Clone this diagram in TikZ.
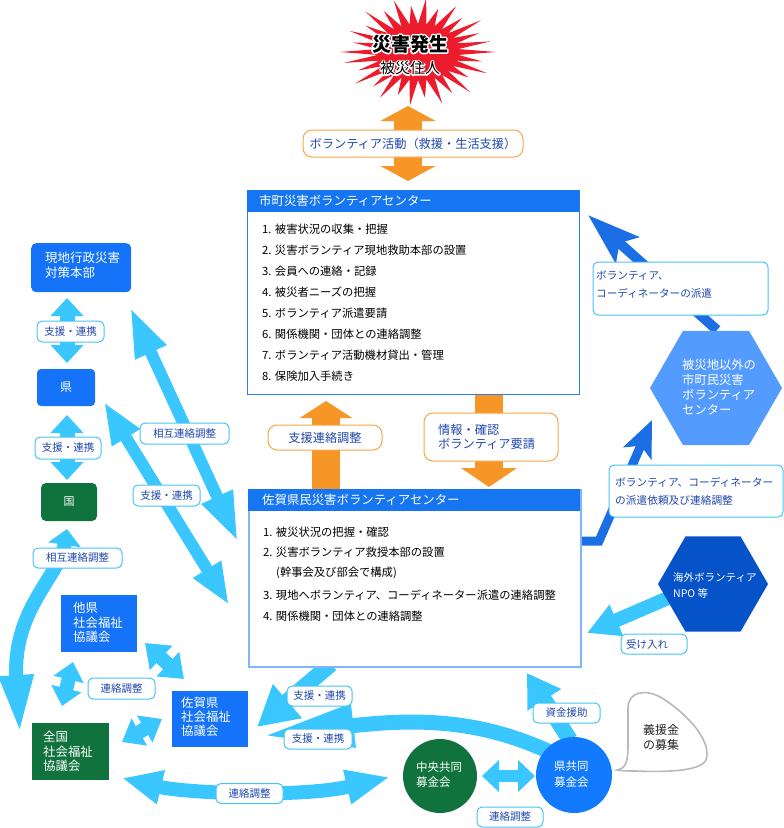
\documentclass[tikz,border=0pt]{standalone}
\usepackage{fontspec}
\setmainfont{Noto Sans CJK JP}
\usetikzlibrary{arrows.meta,shapes.geometric,calc}
\definecolor{hblue}{RGB}{22,118,242}
\definecolor{kblue}{RGB}{20,115,248}
\definecolor{kgreen}{RGB}{16,115,62}
\definecolor{cyanA}{RGB}{58,198,255}
\definecolor{dblue}{RGB}{28,110,228}
\definecolor{hexlight}{RGB}{84,155,255}
\definecolor{hexdark}{RGB}{6,82,200}
\definecolor{oran}{RGB}{246,150,38}
\definecolor{ltext}{RGB}{32,72,172}
\definecolor{lborder}{RGB}{70,195,245}
\definecolor{burstred}{RGB}{236,28,44}
\definecolor{bonebord}{RGB}{40,125,240}
\definecolor{btwobord}{RGB}{130,180,255}
\definecolor{cblue}{RGB}{18,122,255}
\newcommand\myfs[2]{\fontsize{#1}{#2}\selectfont}
\newcommand\halotext[2]{\makebox[0pt][l]{\color{white}\special{pdf:literal direct 1 1 1 RG #1 w 1 j 2 Tr}#2\special{pdf:literal direct 0 Tr 1 w}}#2}
\begin{document}
\begin{tikzpicture}[x=1pt,y=-1pt,
  lbl/.style={draw=lborder, line width=1, fill=white, rounded corners=5, text=ltext, font=\myfs{10.5}{13}, inner sep=0, minimum height=20},
  olbl/.style={draw=oran!85, line width=1, fill=white, rounded corners=9, text=ltext, font=\myfs{12.2}{14}, inner sep=0},
  cy/.style={draw=cyanA, line width=#1},
  db/.style={draw=dblue, line width=#1},
  org/.style={draw=oran, line width=#1},
  wtext/.style={text=white, align=left, inner sep=0},
  item/.style={anchor=west, inner sep=0, font=\myfs{11.3}{13}},
  hdr/.style={fill=hblue, minimum width=332, minimum height=22, anchor=north west, inner sep=0},
  sq/.style={fill=kblue, anchor=north west, inner sep=0}
]
\useasboundingbox (0,0) rectangle (784,828);

% ---------- burst ----------
\coordinate (burst) at (418,52);
\begin{scope}[shift={(burst)}]
\fill[burstred] (78,0) \foreach \a/\r in {6/0.52,12/0.84,18/0.52,24/0.97,30/0.52,36/0.8,42/0.52,48/1.0,54/0.52,60/0.88,66/0.52,72/1.0,78/0.52,84/0.85,90/0.52,96/1.0,102/0.52,108/0.84,114/0.52,120/0.98,126/0.52,132/0.86,138/0.52,144/1.0,150/0.52,156/0.84,162/0.52,168/0.97,174/0.52,180/1.0,186/0.52,192/0.85,198/0.52,204/0.96,210/0.52,216/0.83,222/0.52,228/1.0,234/0.52,240/0.88,246/0.52,252/1.0,258/0.52,264/0.86,270/0.52,276/1.0,282/0.52,288/0.84,294/0.52,300/0.98,306/0.52,312/0.85,318/0.52,324/1.0,330/0.52,336/0.86,342/0.52,348/0.95,354/0.52} { -- ({78*\r*cos(\a)},{54*\r*sin(\a)}) } -- cycle;
\end{scope}
\node[inner sep=0, font=\myfs{19}{21}\bfseries] (burstA) at (410,44) {\halotext{3}{災害発生}};
\node[inner sep=0, font=\myfs{15}{17}] (burstB) at (410,68) {\halotext{2.6}{被災住人}};

% ---------- arrow end coordinates ----------
\coordinate (a1s) at (408,106); \coordinate (a1e) at (408,181);
\coordinate (a2s) at (326,489); \coordinate (a2e) at (326,401);
\coordinate (a3s) at (489,394); \coordinate (a3e) at (489,487);

% ---------- orange arrows ----------
\draw[org=28, {Triangle[length=15pt,width=55pt]}-{Triangle[length=15pt,width=55pt]}] (a1s) -- (a1e);
\draw[org=28, -{Triangle[length=17pt,width=52pt]}] (a2s) -- (a2e);
\draw[org=28, -{Triangle[length=19pt,width=55pt]}] (a3s) -- (a3e);

% ---------- cyan arrows ----------
\coordinate (c1a) at (67,298); \coordinate (c1b) at (67,363);
\coordinate (c2a) at (67,415); \coordinate (c2b) at (67,480);
\coordinate (c3a) at (67,529); \coordinate (c3b) at (20,735);
\coordinate (c4a) at (130,307); \coordinate (c4b) at (238,542);
\coordinate (c5a) at (104,402); \coordinate (c5b) at (229,605);
\coordinate (c6a) at (145,643); \coordinate (c6b) at (184,679);
\coordinate (c7a) at (73,662); \coordinate (c7b) at (62,706);
\coordinate (c8a) at (122,742); \coordinate (c8b) at (162,719);
\coordinate (c9a) at (122,778); \coordinate (c9b) at (390,777);
\coordinate (c10a) at (482,776); \coordinate (c10b) at (535,776);
\coordinate (c11a) at (570,740); \coordinate (c11b) at (527,673);
\coordinate (c12a) at (550,752); \coordinate (c12b) at (262,736);
\coordinate (c13a) at (331,664); \coordinate (c13b) at (257,727);
\coordinate (c14a) at (668,598); \coordinate (c14b) at (587,633);

\draw[cy=15, {Triangle[length=18pt,width=32pt]}-{Triangle[length=18pt,width=32pt]}] (c1a) -- (c1b);
\draw[cy=15, {Triangle[length=18pt,width=32pt]}-{Triangle[length=18pt,width=32pt]}] (c2a) -- (c2b);
\draw[cy=14, {Triangle[length=16pt,width=32pt]}-{Triangle[length=60pt,width=31pt]}] (c3a) .. controls (60,575) and (12,610) .. (c3b);
\draw[cy=12, {Triangle[length=50pt,width=31pt]}-{Triangle[length=50pt,width=31pt]}] (c4a) -- (c4b);
\draw[cy=12, {Triangle[length=42pt,width=30pt]}-{Triangle[length=42pt,width=30pt]}] (c5a) -- (c5b);
\draw[cy=14, {Triangle[length=22pt,width=32pt]}-{Triangle[length=22pt,width=32pt]}] (c6a) -- (c6b);
\draw[cy=14, {Triangle[length=18pt,width=30pt]}-{Triangle[length=18pt,width=30pt]}] (c7a) -- (c7b);
\draw[cy=14, {Triangle[length=20pt,width=30pt]}-{Triangle[length=20pt,width=30pt]}] (c8a) -- (c8b);
\draw[cy=14, {Triangle[length=40pt,width=32pt]}-{Triangle[length=44pt,width=32pt]}] (c9a) .. controls (185,793) and (300,798) .. (c9b);
\draw[cy=12, {Triangle[length=17pt,width=31pt]}-{Triangle[length=17pt,width=31pt]}] (c10a) -- (c10b);
\draw[cy=16, -{Triangle[length=32pt,width=38pt]}] (c11a) -- (c11b);
\draw[cy=15, -{Triangle[length=92pt,width=40pt]}] (c12a) .. controls (480,720) and (420,718) .. (c12b);
\draw[cy=16, -{Triangle[length=40pt,width=42pt]}] (c13a) -- (c13b);
\draw[cy=14, -{Triangle[length=32pt,width=32pt]}] (c14a) -- (c14b);

% ---------- dark blue arrows ----------
\coordinate (d1a) at (717,330); \coordinate (d1b) at (588,215);
\coordinate (d2a) at (579,541); \coordinate (d2b) at (599,541); \coordinate (d2c) at (652,420);
\draw[db=10, -{Stealth[length=52pt,width=34pt,inset=10pt]}] (d1a) -- (d1b);
\draw[db=9, line join=miter, -{Stealth[length=36pt,width=30pt,inset=8pt]}] (d2a) -- (d2b) -- (d2c);

% ---------- main boxes ----------
\node[draw=bonebord, line width=1.2, fill=white, minimum width=332, minimum height=204, anchor=north west, inner sep=0] (mc) at (247,190) {};
\node[hdr] (mch) at (247,190) {};
\node[text=white, inner sep=0, anchor=west, font=\myfs{12.4}{14}] (mct) at (259,201) {市町災害ボランティアセンター};
\foreach \t [count=\i] in {{1. 被害状況の収集・把握},{2. 災害ボランティア現地救助本部の設置},{3. 会員への連絡・記録},{4. 被災者ニーズの把握},{5. ボランティア派遣要請},{6. 関係機関・団体との連絡調整},{7. ボランティア活動機材貸出・管理},{8. 保険加入手続き}}
  \node[item] (mci\i) at (262,208+21*\i) {\t};

\node[draw=btwobord, line width=1.5, fill=white, minimum width=332, minimum height=177, anchor=north west, inner sep=0] (sc) at (248,489) {};
\node[hdr] (sch) at (248,489) {};
\node[text=white, inner sep=0, anchor=west, font=\myfs{12.4}{14}] (sct) at (262,500) {佐賀県民災害ボランティアセンター};
\node[item] (sci1) at (263,532) {1. 被災状況の把握・確認};
\node[item] (sci2) at (263,552) {2. 災害ボランティア救授本部の設置};
\node[item] (sci3) at (276,573) {(幹事会及び部会で構成)};
\node[item] (sci4) at (263,595) {3. 現地へボランティア、コーディネーター派遣の連絡調整};
\node[item] (sci5) at (263,616) {4. 関係機関・団体との連絡調整};

% ---------- left column ----------
\node[fill=kblue, rounded corners=5, minimum width=100, minimum height=49, anchor=north west, inner sep=0] (hq) at (31,243) {};
\node[wtext, anchor=west, font=\myfs{12.5}{15}] (hqt) at (45,265.5) {現地行政災害\\対策本部};
\node[fill=kblue, rounded corners=4, minimum width=58, minimum height=37, inner sep=0, text=white, font=\myfs{12}{14}] (ken) at (66,387.5) {県};
\node[fill=kgreen, rounded corners=5, minimum width=56, minimum height=38, inner sep=0, text=white, font=\myfs{11}{13}] (kuni) at (69,502) {国};

\node[sq, minimum width=76, minimum height=57] (tk) at (61,595) {};
\node[wtext, anchor=west, font=\myfs{12.4}{14.5}] (tkt) at (73,622.5) {他県\\社会福祉\\協議会};
\node[sq, minimum width=76, minimum height=56] (sg) at (172,691) {};
\node[wtext, anchor=west, font=\myfs{12.4}{14}] (sgt) at (181,717) {佐賀県\\社会福祉\\協議会};
\node[sq, fill=kgreen, minimum width=77, minimum height=57] (zk) at (32,723) {};
\node[wtext, anchor=west, font=\myfs{12.4}{14.5}] (zkt) at (43,751.5) {全国\\社会福祉\\協議会};

% ---------- circles ----------
\node[circle, fill=kgreen, minimum size=74, inner sep=0] (chuo) at (440,776) {};
\node[wtext, anchor=west, font=\myfs{11.5}{15}] (chuot) at (416,775) {中央共同\\募金会};
\node[circle, fill=cblue, minimum size=76, inner sep=0] (kk) at (574,775) {};
\node[wtext, anchor=west, font=\myfs{11.5}{16}] (kkt) at (554,774) {県共同\\募金会};

% ---------- hexagons ----------
\node[regular polygon, regular polygon sides=6, minimum size=132, fill=hexlight, inner sep=0] (hex1) at (716,388) {};
\node[wtext, anchor=west, font=\myfs{12.3}{15}] (hex1t) at (682,387.5) {被災地以外の\\市町民災害\\ボランティア\\センター};
\node[regular polygon, regular polygon sides=6, minimum size=110, fill=hexdark, inner sep=0] (hex2) at (713,584) {};
\node[wtext, anchor=west, font=\myfs{10.5}{16}] (hex2t) at (673,585) {海外ボランティア\\NPO 等};

% ---------- speech bubble ----------
\draw[draw=gray!55, line width=1.6, fill=white] (617,770) .. controls (626,768) and (628,762) .. (628,745) -- (628,708) .. controls (628,692) and (645,688) .. (662,698) .. controls (690,716) and (712,742) .. (706,760) .. controls (700,772) and (662,772) .. (636,771) .. controls (628,771) and (622,771) .. (617,770) -- cycle;
\node[inner sep=0, align=left, anchor=west, text=gray!30!black, font=\myfs{12}{15}] (gien) at (643,737.5) {義援金\\の募集};

% ---------- labels ----------
\node[olbl, minimum width=220, minimum height=27] (o1) at (413,143.5) {ボランティア活動（救援・生活支援）};
\node[olbl, minimum width=114, minimum height=25] (o2) at (325,437.5) {支援連絡調整};
\node[olbl, minimum width=134, minimum height=48] (o3) at (491,437) {};
\node[inner sep=0, align=left, anchor=west, text=ltext, font=\myfs{12.2}{14}] (o3t) at (438,437) {情報・確認\\ボランティア要請};

\node[lbl, minimum width=67, minimum height=21] (l1) at (70.5,331.5) {支援・連携};
\node[lbl, minimum width=66, minimum height=22] (l2) at (68,448) {支援・連携};
\node[lbl, minimum width=89] (l3) at (77.5,558) {相互連絡調整};
\node[lbl, minimum width=89, minimum height=21] (l4) at (184.5,433.5) {相互連絡調整};
\node[lbl, minimum width=67, minimum height=21] (l5) at (166.5,495.5) {支援・連携};
\node[lbl, minimum width=67, minimum height=21] (l6) at (121.5,688.5) {連絡調整};
\node[lbl, minimum width=67] (l7) at (249.5,793.5) {連絡調整};
\node[lbl, minimum width=65] (l8) at (319.5,696) {支援・連携};
\node[lbl, minimum width=68] (l9) at (318,739) {支援・連携};
\node[lbl, minimum width=66] (l10) at (510,817) {連絡調整};
\node[lbl, minimum width=67] (l11) at (566.5,713) {資金援助};
\node[lbl, minimum width=66] (l12) at (654,644) {};
\node[inner sep=0, anchor=west, text=ltext, font=\myfs{10.5}{13}] (l12t) at (626,644) {受け入れ};
\node[lbl, minimum width=175, minimum height=53] (r1) at (680.5,288.5) {};
\node[inner sep=0, align=left, anchor=west, text=ltext, font=\myfs{10.6}{18}] (r1t) at (596,285) {ボランティア、\\コーディネーターの派遣};
\node[lbl, minimum width=174, minimum height=52] (r2) at (696,491) {};
\node[inner sep=0, align=left, anchor=west, text=ltext, font=\myfs{10.7}{18}] (r2t) at (615,491) {ボランティア、コーディネーター\\の派遣依頼及び連絡調整};
\end{tikzpicture}
\end{document}
